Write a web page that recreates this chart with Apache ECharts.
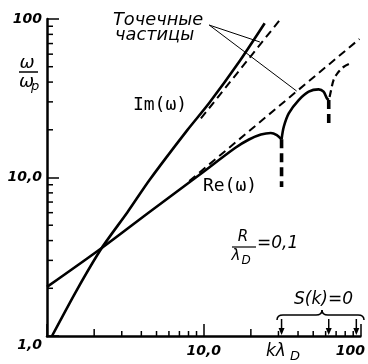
<!DOCTYPE html>
<html>
<head>
<meta charset="utf-8">
<script src="https://cdn.jsdelivr.net/npm/echarts@6/dist/echarts.min.js"></script>
<style>html,body{margin:0;padding:0;background:#fff}#c{width:368px;height:364px}</style>
</head>
<body>
<div id="c"></div>
<script>
// ---- data ----
const xTickValues = [1, 10, 100];
const xTickLabels = ['', '10,0', '100'];
const yTickValues = [1, 10, 100];
const yTickLabels = ['1,0', '10,0', '100'];
const xMinorTicks = [2, 3, 4, 5, 6, 7, 8, 9, 20, 30, 40, 50, 60, 70, 80, 90];
const yMinorTicks = [2, 3, 4, 5, 6, 7, 8, 9, 20, 30, 40, 50, 60, 70, 80, 90];
const sZeros = [31.4, 62.8, 94.2];

const imCurve = [[1.076, 1.0], [1.55, 1.95], [2.235, 3.59], [3.27, 6.06], [4.51, 9.64], [7.86, 19.9], [10.84, 29.5], [16.8, 53.5], [24.5, 94.0]];
const imPointParticle = [[9.6, 23.6], [30.6, 98.6]];
const reCurve = [[1.0, 2.04], [2.235, 3.59], [4.51, 6.06], [9.36, 10.37], [15.85, 15.36], [19.45, 17.37], [23.18, 18.67], [26.8, 19.1], [29.3, 18.5], [31.4, 17.4]];
const reArch2 = [[31.4, 17.4], [32.44, 20.9], [34.9, 25.4], [40.4, 30.8], [46.8, 34.8], [54.1, 36.0], [58.2, 34.8], [61.1, 31.6], [62.8, 30.8]];
const reArch3 = [[63.6, 32.2], [65.0, 35.6], [67.4, 41.2], [71.5, 45.6], [78.0, 49.8], [87.7, 52.8]];
const rePointParticle = [[8.09, 9.5], [98.6, 74.8]];
const reDrop1 = [[31.4, 17.4], [31.4, 8.7]];
const reDrop2 = [[62.8, 30.8], [62.8, 21.4]];
const pointerIm = [[10.84, 91.6], [22.84, 71.6]];
const pointerRe = [[10.84, 91.6], [39.2, 35.1]];

// ---- chart ----
const chart = echarts.init(document.getElementById('c'), null, {renderer: 'canvas'});
const FONT = '"DejaVu Sans"';
const labelFont = {fontFamily: FONT, fontStyle: 'italic', fontWeight: 'bold', fontSize: 14, color: '#000'};
function lookup(vals, labels, v) {
  let best = 0, bd = Infinity;
  vals.forEach((t, i) => { const d = Math.abs(Math.log10(t) - Math.log10(v)); if (d < bd) { bd = d; best = i; } });
  return bd < 1e-3 ? labels[best] : '';
}
function mant(v) { return Math.round(v / Math.pow(10, Math.floor(Math.log10(v) + 1e-9))); }

const solid = (data, w, smooth) => ({type: 'line', data, symbol: 'none', smooth: smooth || 0, silent: true,
  lineStyle: {color: '#000', width: w}, z: 3});
const dashed = (data, w, dash, smooth) => ({type: 'line', data, symbol: 'none', smooth: smooth || 0, silent: true,
  lineStyle: {color: '#000', width: w, type: dash}, z: 3});
const txt = (x, y, text, font, align) => ({type: 'text', x, y, style: {text, font, fill: '#000', align: align || 'left', verticalAlign: 'middle'}});
const seg = (x1, y1, x2, y2, w) => ({type: 'line', shape: {x1, y1, x2, y2}, style: {stroke: '#000', lineWidth: w}});
const qcurve = (x1, y1, cx, cy, x2, y2, w) => ({type: 'bezierCurve', shape: {x1, y1, x2, y2, cpx1: cx, cpy1: cy}, style: {stroke: '#000', lineWidth: w, fill: null}});

const option = {
  animation: false,
  backgroundColor: '#fff',
  grid: {left: 47, right: 6, top: 19, bottom: 28},
  xAxis: {
    type: 'log', logBase: 10, min: 1, max: 100, splitNumber: 2,
    axisLine: {onZero: false, lineStyle: {color: '#000', width: 2.5}},
    axisTick: {inside: true, length: 12, lineStyle: {color: '#000', width: 1.5}},
    splitLine: {show: false},
    axisLabel: Object.assign({}, labelFont, {
      margin: 8,
      formatter: v => { const s = lookup(xTickValues, xTickLabels, v); return s === '100' ? '{e|' + s + '}' : s; },
      rich: {e: Object.assign({}, labelFont, {padding: [0, 20, 0, 0]})}
    })
  },
  yAxis: {
    type: 'log', logBase: 10, min: 1, max: 100, splitNumber: 2,
    axisLine: {onZero: false, lineStyle: {color: '#000', width: 2.5}},
    axisTick: {inside: true, length: 12, lineStyle: {color: '#000', width: 1.5}},
    splitLine: {show: false},
    axisLabel: Object.assign({}, labelFont, {
      margin: 5,
      formatter: v => { const s = lookup(yTickValues, yTickLabels, v); return s === '1,0' ? '{o|' + s + '}' : s; },
      rich: {o: Object.assign({}, labelFont, {padding: [18, 0, 0, 0]})}
    })
  },
  series: [
    solid(imCurve, 2.6, 0.25),
    dashed(imPointParticle, 2, [8, 5]),
    solid(reCurve, 2.6, 0.3),
    solid(reArch2, 2.6, 0.3),
    dashed(reArch3, 2.2, [7, 4], 0.3),
    dashed(rePointParticle, 2, [8, 5]),
    dashed(reDrop1, 3.6, [9, 5]),
    dashed(reDrop2, 3.6, [9, 5]),
    solid(pointerIm, 1),
    solid(pointerRe, 1),
    {
      type: 'custom', silent: true, clip: false, z: 4,
      data: xMinorTicks.map(v => [v, 1]),
      renderItem: (params, api) => {
        const v = api.value(0); const p = api.coord([v, api.value(1)]);
        const len = mant(v) === 2 ? 7 : 5;
        return {type: 'line', shape: {x1: p[0], y1: p[1], x2: p[0], y2: p[1] - len}, style: {stroke: '#000', lineWidth: 1.5}};
      }
    },
    {
      type: 'custom', silent: true, clip: false, z: 4,
      data: yMinorTicks.map(v => [1, v]),
      renderItem: (params, api) => {
        const p = api.coord([api.value(0), api.value(1)]);
        return {type: 'line', shape: {x1: p[0], y1: p[1], x2: p[0] + 6, y2: p[1]}, style: {stroke: '#000', lineWidth: 1.5}};
      }
    },
    {
      type: 'custom', silent: true, clip: false, z: 4,
      data: sZeros.map(v => [v, 1]),
      renderItem: (params, api) => {
        const p = api.coord([api.value(0), api.value(1)]);
        return {type: 'group', children: [
          {type: 'line', shape: {x1: p[0], y1: p[1] - 17, x2: p[0], y2: p[1] - 5}, style: {stroke: '#000', lineWidth: 1.5}},
          {type: 'polygon', shape: {points: [[p[0] - 3, p[1] - 8], [p[0] + 3, p[1] - 8], [p[0], p[1] - 1]]}, style: {fill: '#000'}}
        ]};
      }
    }
  ],
  graphic: [
    // y axis name  ω / ωp
    txt(27, 63, 'ω', 'italic 18px ' + FONT, 'center'),
    seg(19, 72, 38, 72, 1.5),
    txt(19, 82, 'ω', 'italic 18px ' + FONT),
    txt(31, 87, 'p', 'italic 13px ' + FONT),
    // curve labels
    txt(160, 105, 'Im(ω)', '18px "DejaVu Sans Mono"', 'center'),
    txt(230, 186, 'Re(ω)', '18px "DejaVu Sans Mono"', 'center'),
    txt(113, 20, 'Точечные', 'italic 17.8px ' + FONT),
    txt(115, 35, 'частицы', 'italic 17.8px ' + FONT),
    // R / λD = 0,1
    txt(243, 237, 'R', 'italic 15px ' + FONT, 'center'),
    seg(232, 247, 256, 247, 1.2),
    txt(236, 256, 'λ', 'italic 15px ' + FONT, 'center'),
    txt(246, 261, 'D', 'italic 12px ' + FONT, 'center'),
    txt(257, 244, '=0,1', 'italic 17px ' + FONT),
    // S(k)=0 and brace
    txt(294, 300, 'S(k)=0', 'italic 17px ' + FONT),
    qcurve(277, 320, 277, 315, 283, 315, 1.5),
    seg(283, 315, 316, 315, 1.5),
    qcurve(316, 315, 322, 315, 322, 310, 1.5),
    qcurve(322, 310, 322, 315, 328, 315, 1.5),
    seg(328, 315, 358, 315, 1.5),
    qcurve(358, 315, 364, 315, 364, 320, 1.5),
    // x axis name kλD
    txt(266, 352, 'kλ', 'italic 17px ' + FONT),
    txt(290, 357, 'D', 'italic 13px ' + FONT)
  ]
};
chart.setOption(option);
</script>
</body>
</html>
